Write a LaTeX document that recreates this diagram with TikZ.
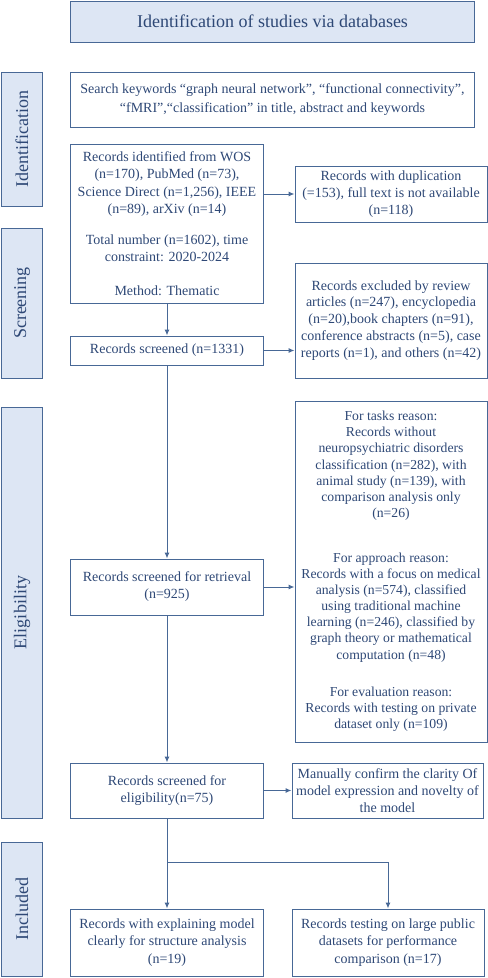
\documentclass[tikz,border=0pt]{standalone}
\usepackage{fontspec}
\setmainfont{Liberation Serif}
\usetikzlibrary{arrows.meta}
\definecolor{lc}{RGB}{72,104,150}
\definecolor{tc}{RGB}{46,72,118}
\definecolor{fc}{RGB}{221,230,244}
\begin{document}
\begin{tikzpicture}[x=1bp,y=-1bp,
  box/.style={draw=lc, line width=1bp, text=tc, align=center, inner sep=0pt,
    font=\fontsize{14bp}{17bp}\selectfont},
  headbox/.style={box, fill=fc, font=\fontsize{18bp}{21bp}\selectfont},
  sidebox/.style={box, fill=fc, rotate=90, minimum height=40bp, font=\fontsize{18bp}{21bp}\selectfont},
  arr/.style={draw=lc, line width=1bp, -{Latex[length=6bp,width=5bp]}},
  ln/.style={draw=lc, line width=1bp}]
\useasboundingbox (0,0) rectangle (488,978);

\node[headbox, minimum width=403bp, minimum height=41bp] (title) at (272.5,21.5) {Identification of studies via databases};
\node[box, minimum width=403bp, minimum height=55bp, font=\fontsize{14bp}{18.3bp}\selectfont] (search) at (272.5,99.5)
  {Search keywords “graph neural network”, “functional connectivity”,\\ “fMRI”,“classification” in title, abstract and keywords};

\node[sidebox, minimum width=134bp] (idside) at (22,139) {Identification};
\node[sidebox, minimum width=150bp] (scrside) at (22,303) {Screening};
\node[sidebox, minimum width=411bp] (eligside) at (22,612.5) {Eligibility};
\node[sidebox, minimum width=134bp] (inclside) at (22,909) {Included};

\node[box, minimum width=192bp, minimum height=159bp, font=\fontsize{14bp}{17.5bp}\selectfont] (ident) at (167,223.5)
  {Records identified from WOS\\ (n=170), PubMed (n=73),\\ Science Direct (n=1,256), IEEE\\ (n=89), arXiv (n=14)\\[13bp]
   Total number (n=1602), time\\ constraint: 2020-2024\\[16bp] Method: Thematic};
\node[box, minimum width=192bp, minimum height=56bp, font=\fontsize{14bp}{16.7bp}\selectfont] (dup) at (391,194)
  {Records with duplication\\ (=153), full text is not available\\ (n=118)};
\node[box, minimum width=192bp, minimum height=29bp] (screened) at (167,350.5) {Records screened (n=1331)};
\node[box, minimum width=192bp, minimum height=115bp, font=\fontsize{14bp}{16.9bp}\selectfont] (excl) at (391,320.5)
  {Records excluded by review\\ articles (n=247), encyclopedia\\ (n=20),book chapters (n=91),\\ conference abstracts (n=5), case\\ reports (n=1), and others (n=42)};
\node[box, minimum width=192bp, minimum height=56bp] (retrieval) at (167,587) {Records screened for retrieval\\ (n=925)};
\node[box, minimum width=192bp, minimum height=341bp, font=\fontsize{13.7bp}{16.1bp}\selectfont] (tasks) at (391,571.5)
  {For tasks reason:\\ Records without\\ neuropsychiatric disorders\\ classification (n=282), with\\ animal study (n=139), with\\ comparison analysis only\\ (n=26)\\[29bp]
   For approach reason:\\ Records with a focus on medical\\ analysis (n=574), classified\\ using traditional machine\\ learning (n=246), classified by\\ graph theory or mathematical\\ computation (n=48)\\[21.5bp]
   For evaluation reason:\\ Records with testing on private\\ dataset only (n=109)};
\node[box, minimum width=192bp, minimum height=55bp] (elig) at (167,790.5) {Records screened for\\ eligibility(n=75)};
\node[box, minimum width=191bp, minimum height=55bp, font=\fontsize{14bp}{17.2bp}\selectfont] (manual) at (387.5,790.5)
  {Manually confirm the clarity Of\\ model expression and novelty of\\ the model};
\node[box, minimum width=192bp, minimum height=67bp, font=\fontsize{14bp}{17.2bp}\selectfont] (incl1) at (167,942.5)
  {Records with explaining model\\ clearly for structure analysis\\ (n=19)};
\node[box, minimum width=192bp, minimum height=67bp, font=\fontsize{14bp}{17.2bp}\selectfont] (incl2) at (388,942.5)
  {Records testing on large public\\ datasets for performance\\ comparison (n=17)};

\draw[arr] (ident.east |- dup.west) -- (dup.west);
\draw[arr] (screened.east) -- (screened.east -| excl.west);
\draw[arr] (retrieval.east) -- (retrieval.east -| tasks.west);
\draw[arr] (elig.east) -- (manual.west);
\draw[arr] (ident.south) -- (screened.north);
\draw[arr] (screened.south) -- (retrieval.north);
\draw[arr] (retrieval.south) -- (elig.north);
\coordinate (j) at (167,862);
\draw[ln] (elig.south) -- (j);
\draw[arr] (j) -- (incl1.north);
\draw[arr] (j) -| (incl2.north);
\end{tikzpicture}
\end{document}
